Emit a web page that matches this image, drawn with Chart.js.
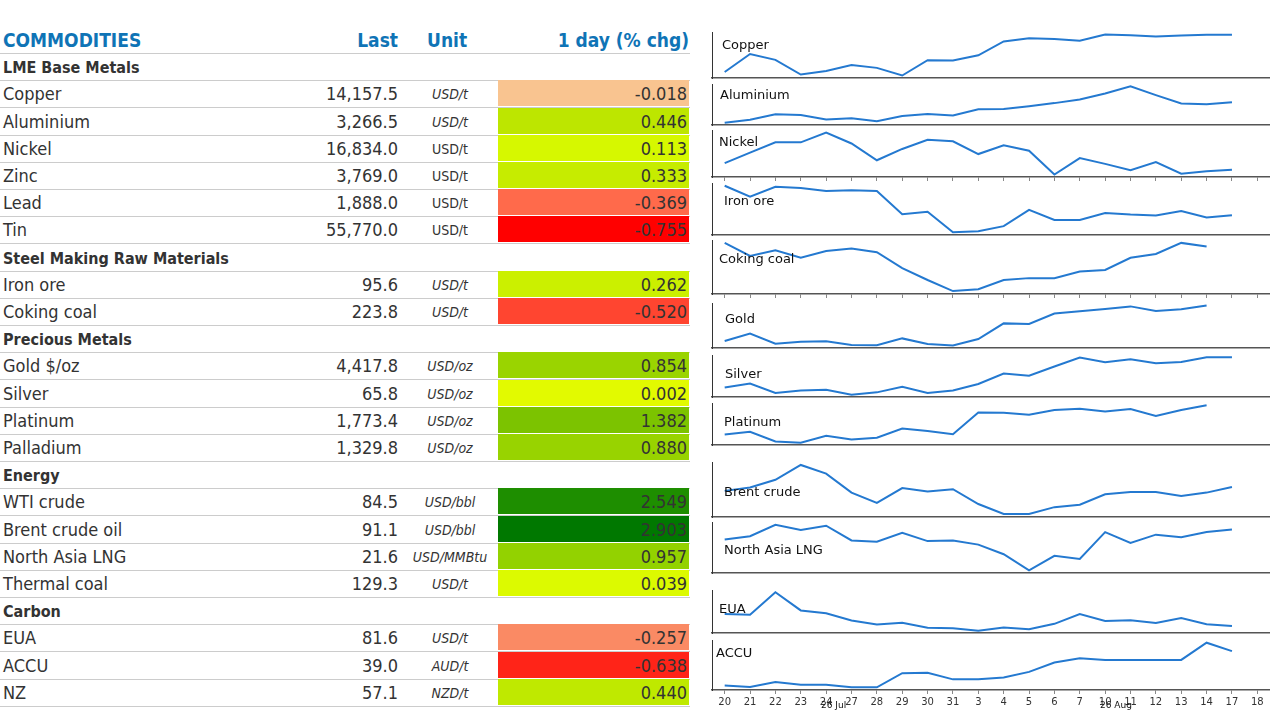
<!DOCTYPE html>
<html><head><meta charset="utf-8">
<script src="https://cdn.jsdelivr.net/npm/chart.js@4/dist/chart.umd.min.js"></script>
<style>
body{margin:0;width:1280px;height:720px;background:#fff;position:relative;overflow:hidden;font-family:"DejaVu Sans Condensed","DejaVu Sans",sans-serif;color:#333}
.row{position:absolute;left:0;width:690px;height:27px;border-bottom:1px solid #ccc;font-size:18px}
.row span{position:absolute;top:3px;white-space:nowrap}
.hdr{color:#0f74b6;font-weight:bold;font-size:19px}
.sec{font-weight:bold;font-size:16px}
.cell{position:absolute;left:498px;width:191px;top:0;height:26px}
.unit{font-size:14px;width:100px;left:400px;text-align:center;top:6px!important}
.plab{position:absolute;font-size:13px;color:#111;font-family:"DejaVu Sans",sans-serif}
canvas{position:absolute}
</style></head><body>
<script>
const rowsName=["LME Base Metals","Copper","Aluminium","Nickel","Zinc","Lead","Tin","Steel Making Raw Materials","Iron ore","Coking coal","Precious Metals","Gold $/oz","Silver","Platinum","Palladium","Energy","WTI crude","Brent crude oil","North Asia LNG","Thermal coal","Carbon","EUA","ACCU","NZ"];
const rowsLast=[null,"14,157.5","3,266.5","16,834.0","3,769.0","1,888.0","55,770.0",null,"95.6","223.8",null,"4,417.8","65.8","1,773.4","1,329.8",null,"84.5","91.1","21.6","129.3",null,"81.6","39.0","57.1"];
const rowsUnit=[null,"USD/t","USD/t","USD/t","USD/t","USD/t","USD/t",null,"USD/t","USD/t",null,"USD/oz","USD/oz","USD/oz","USD/oz",null,"USD/bbl","USD/bbl","USD/MMBtu","USD/t",null,"USD/t","AUD/t","NZD/t"];
const rowsChg=[null,"-0.018","0.446","0.113","0.333","-0.369","-0.755",null,"0.262","-0.520",null,"0.854","0.002","1.382","0.880",null,"2.549","2.903","0.957","0.039",null,"-0.257","-0.638","0.440"];
const rowsColor=[null,"#f9c490","#bde600","#d6f800","#c6ec00","#ff6a4b","#ff0000",null,"#cbf000","#ff4530",null,"#9ad400","#e2fa00","#7cc300","#98d300",null,"#1e8e00","#007800","#93d200","#dcfa00",null,"#fa8a64","#ff2418","#bfe900"];
const italic=[0,1,1,0,0,0,0,0,1,1,0,1,1,1,1,0,1,1,1,1,0,1,1,1];

const dates=["20","21","22","23","24","27","28","29","30","31","3","4","5","6","7","10","11","12","13","14","17","18"];
const copper=[20,72,55,13,23,40,32,10,54,53,68,108,117,115,110,128,126,122,125,127,127];
const aluminium=[10,20,38,35,21,25,15,32,39,34,54,55,64,74,86,105,129,100,73,70,77];
const nickel=[44,73,101,101,128,98,52,83,108,104,69,93,78,13,58,42,25,47,15,22,26];
const ironOre=[157,123,154,150,141,143,141,68,76,12,15,31,82,50,50,72,67,64,78,58,65];
const cokingCoal=[150,115,130,110,128,135,125,82,50,20,25,50,55,55,73,77,110,120,150,140];
const gold=[28,51,20,26,27,16,15,36,19,14,34,82,80,112,119,126,134,120,125,137];
const silver=[32,46,14,22,25,8,16,35,14,22,44,79,72,103,133,117,127,114,118,134,134];
const platinum=[40,49,18,14,36,24,30,59,51,41,110,109,103,118,122,113,121,99,118,133];
const brent=[80,90,112,155,130,75,45,88,78,85,42,13,13,33,40,70,77,77,65,75,91];
const lng=[110,120,156,140,153,107,103,131,105,107,94,64,14,59,49,133,99,125,117,133,141];
const eua=[60,58,120,70,62,42,31,36,22,21,14,23,18,33,60,41,43,35,49,32,27];
const accu=[22,19,30,24,24,18,18,50,51,36,36,40,53,74,84,80,80,80,80,119,100];

const panels=[
 {name:"Copper",data:copper,top:32,bot:81,lx:722,ly:37},
 {name:"Aluminium",data:aluminium,top:84,bot:128,lx:720,ly:87},
 {name:"Nickel",data:nickel,top:130,bot:176,lx:719,ly:134,ticks:true},
 {name:"Iron ore",data:ironOre,top:183,bot:238,lx:724,ly:193},
 {name:"Coking coal",data:cokingCoal,top:240,bot:293,lx:719,ly:251,ticks:true},
 {name:"Gold",data:gold,top:303,bot:351,lx:725,ly:311},
 {name:"Silver",data:silver,top:355,bot:400,lx:725,ly:366},
 {name:"Platinum",data:platinum,top:403,bot:448,lx:724,ly:414},
 {name:"Brent crude",data:brent,top:462,bot:520,lx:724,ly:484},
 {name:"North Asia LNG",data:lng,top:522,bot:576,lx:724,ly:542},
 {name:"EUA",data:eua,top:590,bot:636,lx:719,ly:601},
 {name:"ACCU",data:accu,top:640,bot:680,lx:716,ly:645,ticks:true,labels:true}
];

// table
const TOP=26,RH=27.2;
function addRow(i,html,cls){const d=document.createElement('div');d.className='row '+(cls||'');d.style.top=(TOP+i*RH)+'px';d.innerHTML=html;document.body.appendChild(d);}
addRow(0,'<span style="left:3px">COMMODITIES</span><span style="right:292px">Last</span><span style="left:427px">Unit</span><span style="right:1px">1 day (% chg)</span>','hdr');
rowsName.forEach((n,k)=>{
 const i=k+1;
 if(rowsLast[k]===null){addRow(i,'<span style="left:3px;top:5px">'+n+'</span>','sec');return;}
 addRow(i,'<div class="cell" style="background:'+rowsColor[k]+'"></div><span style="left:3px">'+n+'</span><span style="right:292px">'+rowsLast[k]+'</span><span class="unit" style="font-style:'+(italic[k]?'italic':'normal')+'">'+rowsUnit[k]+'</span><span style="right:3px">'+rowsChg[k]+'</span>');
});

// sparklines
panels.forEach(p=>{
 const c=document.createElement('canvas');
 const extra=p.labels?30:(p.ticks?5:1);
 c.style.left='704px';c.style.top=p.top+'px';c.style.width='566px';c.style.height=(p.bot-p.top+extra)+'px';
 const wrap=document.createElement('div');wrap.style.cssText='position:absolute;left:704px;top:'+p.top+'px;width:566px;height:'+(p.bot-p.top+extra)+'px';
 wrap.appendChild(c);c.style.left='0';c.style.top='0';document.body.appendChild(wrap);
 const mn=Math.min(...p.data),mx=Math.max(...p.data),pad=(mx-mn)*0.06;
 new Chart(c,{type:'line',data:{labels:dates,datasets:[{data:p.data,borderColor:'#2479d0',borderWidth:2,pointRadius:0,tension:0}]},
  options:{responsive:true,maintainAspectRatio:false,animation:false,events:[],
   plugins:{legend:{display:false},tooltip:{enabled:false}},
   layout:{padding:0},
   scales:{
    x:{offset:true,border:{display:true,color:'#555',width:1.5},
       grid:{display:!!p.ticks,drawOnChartArea:false,tickLength:4,color:'#888',offset:false},
       ticks:{display:!!p.labels,autoSkip:false,maxRotation:0,padding:2,color:'#333',font:{size:10,family:'DejaVu Sans'}}},
    y:{min:mn-pad,max:mx+pad,border:{display:true,color:'#333',width:1},grid:{display:false},ticks:{display:false}}
   }}});
 const l=document.createElement('div');l.className='plab';l.textContent=p.name;l.style.left=p.lx+'px';l.style.top=p.ly+'px';document.body.appendChild(l);
});
[["26 Jul",836],["26 Aug",1115]].forEach(([t,x])=>{const d=document.createElement('div');d.className='plab';d.style.fontSize='9px';d.textContent=t;d.style.left=(x-15)+'px';d.style.top='700px';document.body.appendChild(d);});
</script>
</body></html>
